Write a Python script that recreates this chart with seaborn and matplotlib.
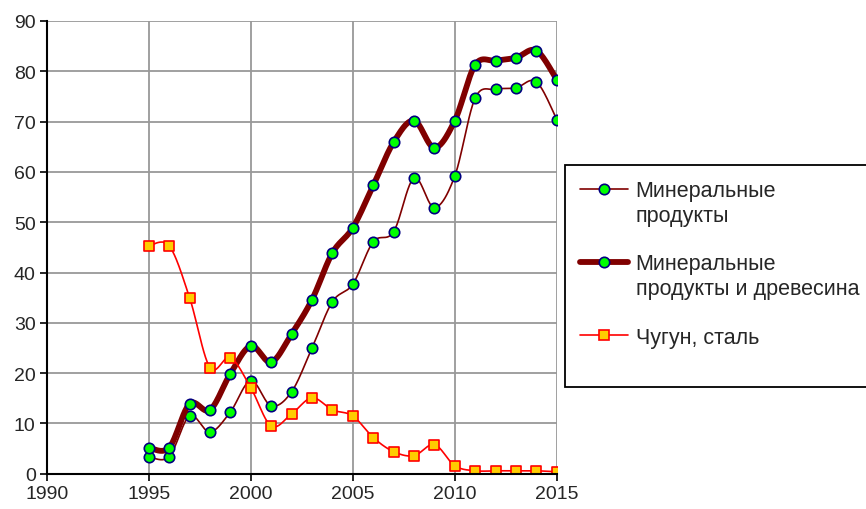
import numpy as np
import matplotlib
matplotlib.use("Agg")
import matplotlib.pyplot as plt
import seaborn as sns
from matplotlib.lines import Line2D

years = [1995, 1996, 1997, 1998, 1999, 2000, 2001, 2002, 2003, 2004, 2005,
         2006, 2007, 2008, 2009, 2010, 2011, 2012, 2013, 2014, 2015]
mineral = [3.4, 3.4, 11.5, 8.3, 12.3, 18.5, 13.5, 16.3, 25.0, 34.2, 37.7,
           46.1, 48.1, 58.8, 52.9, 59.2, 74.7, 76.4, 76.7, 77.9, 70.4]
mineral_wood = [5.2, 5.2, 13.9, 12.7, 19.9, 25.4, 22.2, 27.8, 34.6, 43.9, 48.9,
                57.3, 65.9, 70.2, 64.8, 70.2, 81.3, 82.1, 82.7, 84.1, 78.3]
steel = [45.3, 45.3, 35.0, 21.1, 23.1, 17.1, 9.5, 11.9, 15.1, 12.7, 11.5,
         7.2, 4.4, 3.6, 5.8, 1.6, 0.6, 0.6, 0.6, 0.6, 0.4]
labels = ["Минеральные\nпродукты", "Минеральные\nпродукты и древесина", "Чугун, сталь"]
xticks = [1990, 1995, 2000, 2005, 2010, 2015]
yticks = [0, 10, 20, 30, 40, 50, 60, 70, 80, 90]


def smooth(x, y, n=24):
    # Catmull-Rom curve through the points, like Excel's smoothed line
    pts = np.column_stack([x, y]).astype(float)
    p = np.vstack([pts[0], pts, pts[-1]])
    t = np.linspace(0, 1, n)[:, None]
    out = []
    for i in range(len(pts) - 1):
        p0, p1, p2, p3 = p[i], p[i + 1], p[i + 2], p[i + 3]
        c = 0.5 * (2 * p1 + (-p0 + p2) * t + (2 * p0 - 5 * p1 + 4 * p2 - p3) * t ** 2
                   + (-p0 + 3 * p1 - 3 * p2 + p3) * t ** 3)
        out.append(c if i == 0 else c[1:])
    c = np.vstack(out)
    return c[:, 0], c[:, 1]


sns.set_style("white")
plt.rcParams['font.family'] = ['Liberation Sans', 'DejaVu Sans']
plt.rcParams['font.size'] = 14

fig = plt.figure(figsize=(8.66, 5.10), dpi=100)
ax = fig.add_axes([0.054, 0.069, 0.589, 0.888])

styles = [
    dict(data=mineral, color="#800000", lw=1.2, marker="o", mfc="#00FF00", mec="#000080", ms=7.5),
    dict(data=mineral_wood, color="#800000", lw=4.2, marker="o", mfc="#00FF00", mec="#000080", ms=7.5),
    dict(data=steel, color="#FF0000", lw=1.2, marker="s", mfc="#FFCC00", mec="#FF0000", ms=7),
]

for k, st in enumerate(styles):
    sx, sy = smooth(years, st["data"])
    sns.lineplot(x=sx, y=sy, ax=ax, color=st["color"], linewidth=st["lw"],
                 sort=False, estimator=None, zorder=3 + 2 * k)
    sns.scatterplot(x=years, y=st["data"], ax=ax, marker=st["marker"], s=st["ms"] ** 2,
                    color=st["mfc"], edgecolor=st["mec"], linewidth=1.2, zorder=4 + 2 * k)

ax.set_xlim(1990, 2015)
ax.set_ylim(0, 90)
ax.set_xticks(xticks)
ax.set_yticks(yticks)
ax.grid(True, color="#999999", linewidth=1.3)
ax.set_axisbelow(True)
for side in ["top", "right"]:
    ax.spines[side].set_visible(False)
for side in ["left", "bottom"]:
    ax.spines[side].set_color("black")
    ax.spines[side].set_linewidth(1.5)
    ax.spines[side].set_zorder(10)
ax.tick_params(axis="both", direction="out", length=5, width=1.2, color="black",
               labelsize=14, left=True, bottom=True, pad=3)

blank = Line2D([], [], linestyle="none")
handles = []
leg_labels = []
for k, st in enumerate(styles):
    h = Line2D([], [], color=st["color"], linewidth=st["lw"], marker=st["marker"],
               markerfacecolor=st["mfc"], markeredgecolor=st["mec"], markersize=st["ms"],
               markeredgewidth=1.2)
    parts = labels[k].split("\n")
    handles.append(h)
    leg_labels.append(parts[0])
    if len(parts) > 1:
        handles += [blank, blank]
        leg_labels += [parts[1], ""]
handles.append(blank)
leg_labels.append("")

leg = fig.legend(handles, leg_labels, loc="upper left", bbox_to_anchor=(0.6524, 0.6745),
                 frameon=True, fancybox=False, edgecolor="black", framealpha=1,
                 handlelength=2.25, handletextpad=0.33, labelspacing=0.16,
                 borderpad=0.7, borderaxespad=0, fontsize=15.5)
leg.get_frame().set_linewidth(1.3)

fig.savefig("out.png", dpi=100)
